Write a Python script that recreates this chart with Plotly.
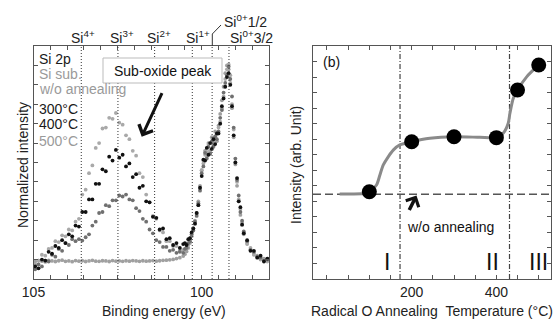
import plotly.graph_objects as go

W, H = 558, 320
def px(x):
    return x / W
def py(y):
    return 1 - y / H

# ---------------- (a) Si 2p spectra ----------------
energy = [104.95, 104.85, 104.75, 104.65, 104.55, 104.45, 104.35, 104.25, 104.15, 104.05,
          103.95, 103.85, 103.75, 103.65, 103.55, 103.45, 103.35, 103.25, 103.15, 103.05,
          102.95, 102.85, 102.75, 102.65, 102.55, 102.45, 102.35, 102.25, 102.15, 102.05,
          101.95, 101.85, 101.75, 101.65, 101.55, 101.45, 101.35, 101.25, 101.15, 101.05,
          100.95, 100.85, 100.75, 100.65, 100.55,
          100.50, 100.45, 100.40, 100.35, 100.30, 100.25, 100.20, 100.15, 100.10, 100.05,
          100.00, 99.95, 99.90, 99.85, 99.80, 99.75, 99.70, 99.65, 99.60, 99.55,
          99.50, 99.45, 99.40, 99.35, 99.30, 99.25, 99.20, 99.15, 99.10, 99.05,
          99.00, 98.95, 98.90, 98.85, 98.80,
          98.75, 98.65, 98.55, 98.45, 98.35, 98.25, 98.15, 98.05]

si_sub = [0.90, 0.95, 0.92, 0.88, 0.96, 0.93, 0.90, 0.94, 0.97, 0.91,
          0.93, 0.89, 0.95, 0.92, 0.94, 0.90, 0.93, 0.96, 0.92, 0.91,
          0.94, 0.93, 0.90, 0.95, 0.92, 0.93, 0.91, 0.94, 0.92, 0.95,
          0.93, 0.91, 0.94, 0.92, 0.93, 0.95, 0.92, 0.94, 0.96, 0.97,
          0.99, 1.01, 1.05, 1.10, 1.18,
          1.28, 1.42, 1.60, 1.85, 2.20, 2.60, 3.00, 3.40, 4.00, 4.80,
          5.60, 6.10, 6.60, 6.30, 7.00, 6.60, 7.30, 6.80, 7.60, 7.10,
          7.90, 8.50, 9.20, 9.90, 10.60, 11.00, 10.80, 10.10, 8.80, 7.30,
          5.90, 4.80, 4.00, 3.30, 2.80,
          2.30, 1.80, 1.50, 1.25, 1.15, 1.00, 1.05, 0.95]

anneal_300 = [0.50, 0.75, 0.65, 0.95, 0.90, 1.25, 1.15, 1.55, 1.45, 1.85,
              1.75, 2.05, 1.95, 2.05, 1.98, 2.15, 2.30, 2.75, 2.95, 3.40,
              3.45, 3.80, 3.75, 4.05, 4.05, 4.30, 4.25, 4.35, 4.10, 4.05,
              3.65, 3.50, 3.10, 2.95, 2.55, 2.35, 2.00, 1.90, 1.65, 1.65,
              1.45, 1.50, 1.35, 1.40, 1.35,
              1.55, 1.60, 1.85, 1.95, 2.30, 2.50, 2.95, 3.25, 3.90, 4.55,
              5.45, 5.80, 6.50, 6.20, 6.80, 6.45, 7.10, 6.85, 7.35, 7.20,
              7.60, 8.30, 8.70, 9.60, 10.10, 10.50, 10.95, 10.30, 9.40, 7.80,
              6.20, 5.10, 4.30, 3.45, 3.00,
              2.45, 1.95, 1.50, 1.40, 1.15, 1.10, 0.95, 1.00]

anneal_400 = [0.65, 0.55, 1.00, 0.95, 1.40, 1.30, 1.70, 1.60, 2.00, 1.85,
              2.30, 2.20, 2.75, 2.70, 3.45, 3.45, 4.10, 4.10, 4.90, 4.90,
              5.65, 5.55, 6.30, 6.10, 6.65, 6.25, 6.40, 5.80, 5.95, 5.25,
              5.40, 4.70, 4.80, 4.00, 3.95, 3.20, 3.15, 2.55, 2.60, 2.05,
              2.10, 1.75, 1.85, 1.60, 1.80,
              1.85, 1.75, 2.05, 2.10, 2.40, 2.60, 2.85, 3.40, 3.80, 4.70,
              5.30, 6.15, 6.10, 6.75, 6.40, 7.00, 6.70, 7.20, 6.95, 7.50,
              7.50, 8.00, 8.90, 9.30, 9.90, 10.40, 10.60, 10.00, 8.90, 7.40,
              6.00, 5.20, 4.00, 3.70, 2.80,
              2.35, 2.00, 1.45, 1.45, 1.10, 1.20, 0.90, 1.05]

anneal_500 = [0.75, 0.95, 1.25, 1.20, 1.55, 1.60, 1.95, 1.90, 2.25, 2.20,
              2.55, 2.50, 2.95, 3.10, 4.35, 4.60, 5.45, 5.85, 6.75, 7.00,
              7.75, 7.80, 8.30, 8.25, 8.55, 8.05, 7.95, 7.40, 7.20, 6.60,
              6.35, 5.45, 5.25, 4.35, 3.95, 3.25, 3.10, 2.50, 2.40, 1.95,
              1.95, 1.70, 1.70, 1.45, 1.50,
              1.50, 1.70, 1.75, 2.05, 2.20, 2.60, 2.85, 3.35, 3.80, 4.65,
              5.60, 5.95, 6.40, 6.55, 6.90, 6.60, 7.00, 7.10, 7.30, 7.45,
              7.80, 8.10, 8.80, 9.40, 10.30, 10.80, 11.05, 10.50, 9.00, 7.70,
              6.00, 5.00, 4.10, 3.60, 2.90,
              2.40, 1.85, 1.60, 1.30, 1.20, 1.05, 1.00, 0.90]

for s in (si_sub, anneal_300, anneal_400, anneal_500):
    assert len(s) == len(energy), (len(s), len(energy))

state_labels = ["Si<sup>4+</sup>", "Si<sup>3+</sup>", "Si<sup>2+</sup>", "Si<sup>1+</sup>"]
state_energy = [103.58, 102.49, 101.40, 100.28]
si0_labels = ["Si<sup>0+</sup>1/2", "Si<sup>0+</sup>3/2"]
si0_energy = [99.69, 99.19]

be_ticks = [105, 104.5, 104, 103.5, 103, 102.5, 102, 101.5, 101, 100.5, 100, 99.5, 99, 98.5]
be_ticktext = ["105", "", "", "", "", "", "", "", "", "", "100", "", "", ""]

legend_texts = ["Si 2p", "Si sub.", "w/o annealing", "300\u00b0C", "400\u00b0C", "500\u00b0C"]
legend_colors = ["#1a1a1a", "#9a9a9a", "#9a9a9a", "#1a1a1a", "#1a1a1a", "#9a9a9a"]

# ---------------- (b) intensity vs temperature ----------------
anneal_temp = [100, 200, 300, 400, 450, 500]
anneal_intensity = [5.62, 8.84, 9.16, 9.10, 12.17, 13.78]
fit_temp = [30, 60, 85, 100, 117, 125, 133, 145, 157, 172, 200, 243, 300, 361, 400, 416, 428, 432, 440, 450, 472, 500]
fit_intensity = [5.47, 5.47, 5.50, 5.62, 6.05, 6.70, 7.34, 7.88, 8.31, 8.63, 8.84, 9.06, 9.16, 9.12, 9.10, 9.38, 10.03, 10.67, 11.64, 12.17, 13.03, 13.78]
no_anneal_level = 5.45
region_bounds = [172.5, 431]
region_names = ["I", "II", "III"]
region_temp = [142.5, 391.5, 499]
temp_ticks = [0, 50, 100, 150, 200, 250, 300, 350, 400, 450, 500]
temp_ticktext = ["", "", "", "", "200", "", "", "", "400", "", ""]

FONT = "Arial, 'Liberation Sans', sans-serif"
AX = "#555555"

fig = go.Figure()

for vals, col in [(si_sub, "#a0a0a0"), (anneal_500, "#a9a9a9"), (anneal_300, "#707070"), (anneal_400, "#111111")]:
    fig.add_trace(go.Scatter(x=energy, y=vals, mode="markers",
                             marker=dict(size=3.8, color=col, line=dict(width=0)),
                             xaxis="x", yaxis="y", showlegend=False, hoverinfo="skip"))

fig.add_trace(go.Scatter(x=fit_temp, y=fit_intensity, mode="lines",
                         line=dict(color="#8a8a8a", width=3, shape="spline", smoothing=0.7),
                         xaxis="x2", yaxis="y2", showlegend=False))
fig.add_trace(go.Scatter(x=anneal_temp, y=anneal_intensity, mode="markers",
                         marker=dict(size=15, color="black"),
                         xaxis="x2", yaxis="y2", showlegend=False))

ydom = [py(279), py(46)]
common = dict(showline=True, linecolor=AX, linewidth=1, mirror="ticks", ticks="inside",
              ticklen=4, tickcolor=AX, tickwidth=1, showgrid=False, zeroline=False,
              automargin=False,
              tickfont=dict(family=FONT, size=14, color="#222"))

fig.update_layout(
    template="none",
    width=W, height=H, autosize=False,
    margin=dict(l=0, r=0, t=0, b=0, pad=0, autoexpand=False),
    paper_bgcolor="white", plot_bgcolor="white",
    font=dict(family=FONT, size=14, color="#222"),
    showlegend=False,
    xaxis=dict(domain=[px(33.5), px(269)], range=[105, 98], anchor="y",
               tickmode="array", tickvals=be_ticks, ticktext=be_ticktext, **common),
    yaxis=dict(domain=ydom, range=[0, 12], anchor="x", tickmode="array",
               tickvals=list(range(1, 12)), showticklabels=False, **common),
    xaxis2=dict(domain=[px(313), px(551)], range=[-33, 529], anchor="y2",
                tickmode="array", tickvals=temp_ticks, ticktext=temp_ticktext, **common),
    yaxis2=dict(domain=ydom, range=[0, 15], anchor="x2", tickmode="array",
                tickvals=list(range(1, 15)), showticklabels=False, **common),
)

shapes = []
for e in state_energy + si0_energy:
    shapes.append(dict(type="line", xref="x", yref="y domain", x0=e, x1=e, y0=0, y1=1,
                       line=dict(color="#333", width=1, dash="1px,2px"), layer="above"))
# Sub-oxide label box
shapes.append(dict(type="rect", xref="paper", yref="paper", x0=px(103), x1=px(222), y0=py(83), y1=py(58),
                   fillcolor="white", line=dict(color="#bbbbbb", width=1), layer="above"))
# leader line for Si0+ 1/2
shapes.append(dict(type="path", xref="paper", yref="paper",
                   path=f"M {px(212.3)},{py(46)} L {px(212.3)},{py(34)} L {px(221)},{py(25)}",
                   line=dict(color="#333", width=1)))
for b in region_bounds:
    shapes.append(dict(type="line", xref="x2", yref="y2 domain", x0=b, x1=b, y0=0, y1=1,
                       line=dict(color="#444", width=1.2, dash="5px,2px,1px,2px"), layer="below"))
shapes.append(dict(type="line", xref="x2 domain", yref="y2", x0=0, x1=1, y0=no_anneal_level, y1=no_anneal_level,
                   line=dict(color="#555", width=1.5, dash="8px,4px"), layer="below"))
fig.update_layout(shapes=shapes)

ann = []
def txt(text, x, y, size=14, color="#222", xanchor="center", yanchor="middle", **kw):
    d = dict(text=text, x=x, y=y, xanchor=xanchor, yanchor=yanchor, showarrow=False,
             font=dict(size=size, color=color))
    d.setdefault("xref", "paper")
    d.setdefault("yref", "paper")
    d.update(kw)
    ann.append(d)

shift = [2, 4, 4, 6]
for lab, e, s in zip(state_labels, state_energy, shift):
    txt(lab, e, py(37), xref="x", xshift=s)
txt(si0_labels[0], si0_energy[0], py(21), xref="x", xshift=10, xanchor="left")
txt(si0_labels[1], si0_energy[1], py(37), xref="x", xshift=-1, xanchor="left")

leg_y = [59.5, 74, 89, 109, 124, 141]
for t, c, yy in zip(legend_texts, legend_colors, leg_y):
    txt(t, px(37), py(yy), color=c, xanchor="left")

txt("Sub-oxide peak", px(162.5), py(71), color="#111")
ann.append(dict(text="", xref="paper", yref="paper", x=px(141.7), y=py(136.7), ax=21, ay=-45,
                showarrow=True, arrowhead=4, arrowsize=1, arrowwidth=3, arrowcolor="#111"))

txt("(b)", px(331.7), py(62), color="#111")
txt("w/o annealing", px(450.8), py(227), color="#111")
ann.append(dict(text="", xref="paper", yref="paper", x=px(416.5), y=py(195.5), ax=-8, ay=16,
                showarrow=True, arrowhead=4, arrowsize=0.8, arrowwidth=3.5, arrowcolor="#111"))
for name, t in zip(region_names, region_temp):
    txt(name, t, 1.11, size=23, color="#111", xref="x2", yref="y2")

txt("Normalized intensity", px(23), py(165), textangle=-90)
txt("Intensity (arb. Unit)", px(296), py(165), textangle=-90)
txt("Binding energy (eV)", px(164), py(311))
txt("Radical O Annealing\u00a0 Temperature (\u00b0C)", px(431.5), py(311))
fig.update_layout(annotations=ann)

fig.write_html("out.html", config={"displayModeBar": False},
               post_script="document.body.style.margin='0px';")
